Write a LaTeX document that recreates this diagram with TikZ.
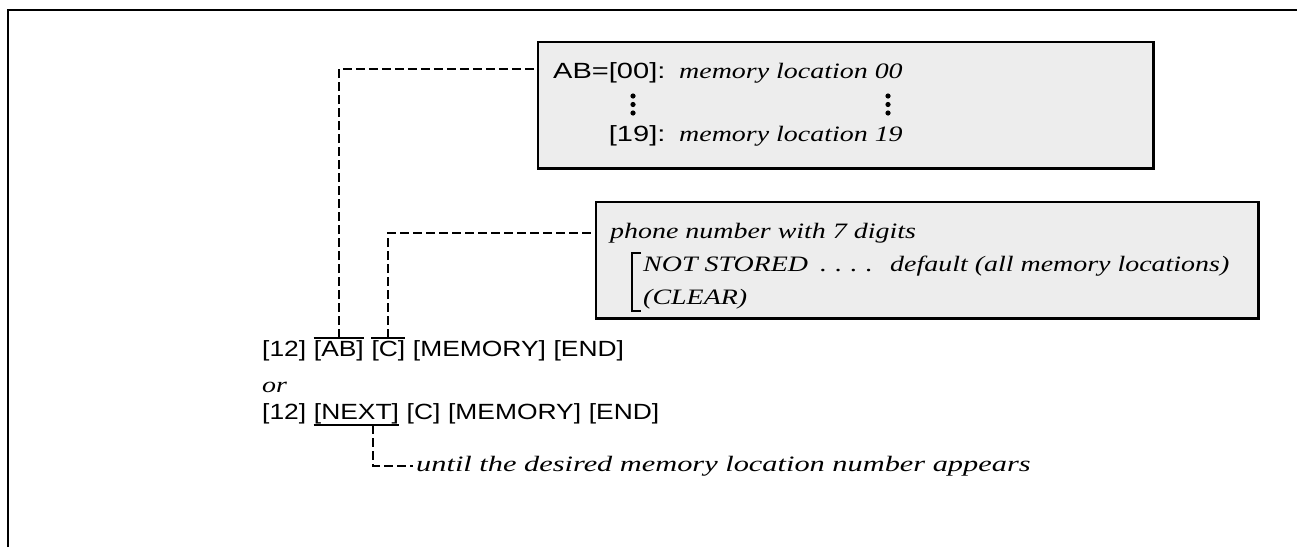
\documentclass[tikz,border=0pt]{standalone}
\usepackage{graphicx}
\usepackage{fontspec}
\setmainfont{Liberation Serif}
\setsansfont{Liberation Sans}
\newcommand{\sx}[1]{\scalebox{1.2}[1]{#1}}
\newcommand{\bx}[1]{\scalebox{1.32}[1]{#1}}
\newcommand{\ix}[1]{\scalebox{1.27}[1]{#1}}
\newcommand{\ux}[1]{\scalebox{1.38}[1]{#1}}
\begin{document}
\begin{tikzpicture}[x=1pt,y=-1pt,
  sanslbl/.style={inner sep=0pt, anchor=base west, font=\sffamily\fontsize{22}{26}\selectfont},
  itlbl/.style={inner sep=0pt, anchor=base west, font=\itshape\fontsize{22}{26}\selectfont},
  infobox/.style={draw=black, line width=1.6pt, fill=black!7, inner sep=0pt},
  leader/.style={line width=1.8pt, dash pattern=on 9pt off 4pt},
  markline/.style={line width=1.3pt}]
\useasboundingbox (0,0) rectangle (1297,547);
% frame
\draw[line width=2pt] (8,547) -- (8,10) -- (1297,10);
% box 1
\node[infobox, minimum width=615pt, minimum height=126pt] (box1) at (845.5,105) {};
\draw[line width=2.8pt] (box1.south west) -- (box1.south east) -- (box1.north east);
\node[sanslbl] (ab00) at (553,78) {\bx{AB=[00]:}};
\node[itlbl] (m00) at (679,78) {\ix{memory location 00}};
\node[sanslbl, anchor=base east] (n19) at (ab00.base east |- 0,141) {\bx{[19]:}};
\node[itlbl] (m19) at (679,141) {\ix{memory location 19}};
\foreach \yy in {96,104.5,113} {
  \fill (633,\yy) circle (2.6pt);
  \fill (888,\yy) circle (2.6pt);
}
% box 2
\node[infobox, minimum width=662pt, minimum height=116pt] (box2) at (927,260) {};
\draw[line width=2.8pt] (box2.south west) -- (box2.south east) -- (box2.north east);
\node[itlbl] (phone) at (610,238) {\ix{phone number with 7 digits}};
\node[itlbl] (nst) at (643,271) {\ix{NOT STORED}};
\node[itlbl] (lead) at (820,271) {\ix{.\hspace{6.5pt}.\hspace{6.5pt}.\hspace{6.5pt}.}};
\node[itlbl] (dflt) at (890,271) {\ix{default (all memory locations)}};
\node[itlbl] (clr) at (643,304) {\ix{(CLEAR)}};
\draw[line width=1.5pt] (641,253) -- (632,253) -- (632,311) -- (641,311);
% bottom lines
\node[sanslbl] (t12) at (262,356) {\sx{[12]}};
\node[sanslbl] (tab) at ([xshift=7.3pt]t12.base east) {\sx{[AB]}};
\node[sanslbl] (tc) at ([xshift=7.3pt]tab.base east) {\sx{[C]}};
\node[sanslbl] (tmem) at ([xshift=7.3pt]tc.base east) {\sx{[MEMORY]}};
\node[sanslbl] (tend) at ([xshift=7.3pt]tmem.base east) {\sx{[END]}};
\node[itlbl] (or) at (262,392) {\ix{or}};
\node[sanslbl] (u12) at (262,419) {\sx{[12]}};
\node[sanslbl] (unext) at ([xshift=7.3pt]u12.base east) {\sx{[NEXT]}};
\node[sanslbl] (uc) at ([xshift=7.3pt]unext.base east) {\sx{[C]}};
\node[sanslbl] (umem) at ([xshift=7.3pt]uc.base east) {\sx{[MEMORY]}};
\node[sanslbl] (uend) at ([xshift=7.3pt]umem.base east) {\sx{[END]}};
\node[itlbl] (until) at (416,471) {\ux{until the desired memory location number appears}};
% over/underlines
\draw[markline] (tab.west |- 0,338) -- (tab.east |- 0,338);
\draw[markline] (tc.west |- 0,338) -- (tc.east |- 0,338);
\draw[markline] (unext.west |- 0,425) -- (unext.east |- 0,425);
% connectors
\draw[leader] (tab.north |- 0,338) |- (box1.west |- 0,69);
\draw[leader] (tc.north |- 0,338) |- (box2.west |- 0,233);
\draw[leader] ([xshift=-26pt]unext.east |- 0,425) |- ([xshift=-3pt]until.west |- 0,466);
\end{tikzpicture}
\end{document}
